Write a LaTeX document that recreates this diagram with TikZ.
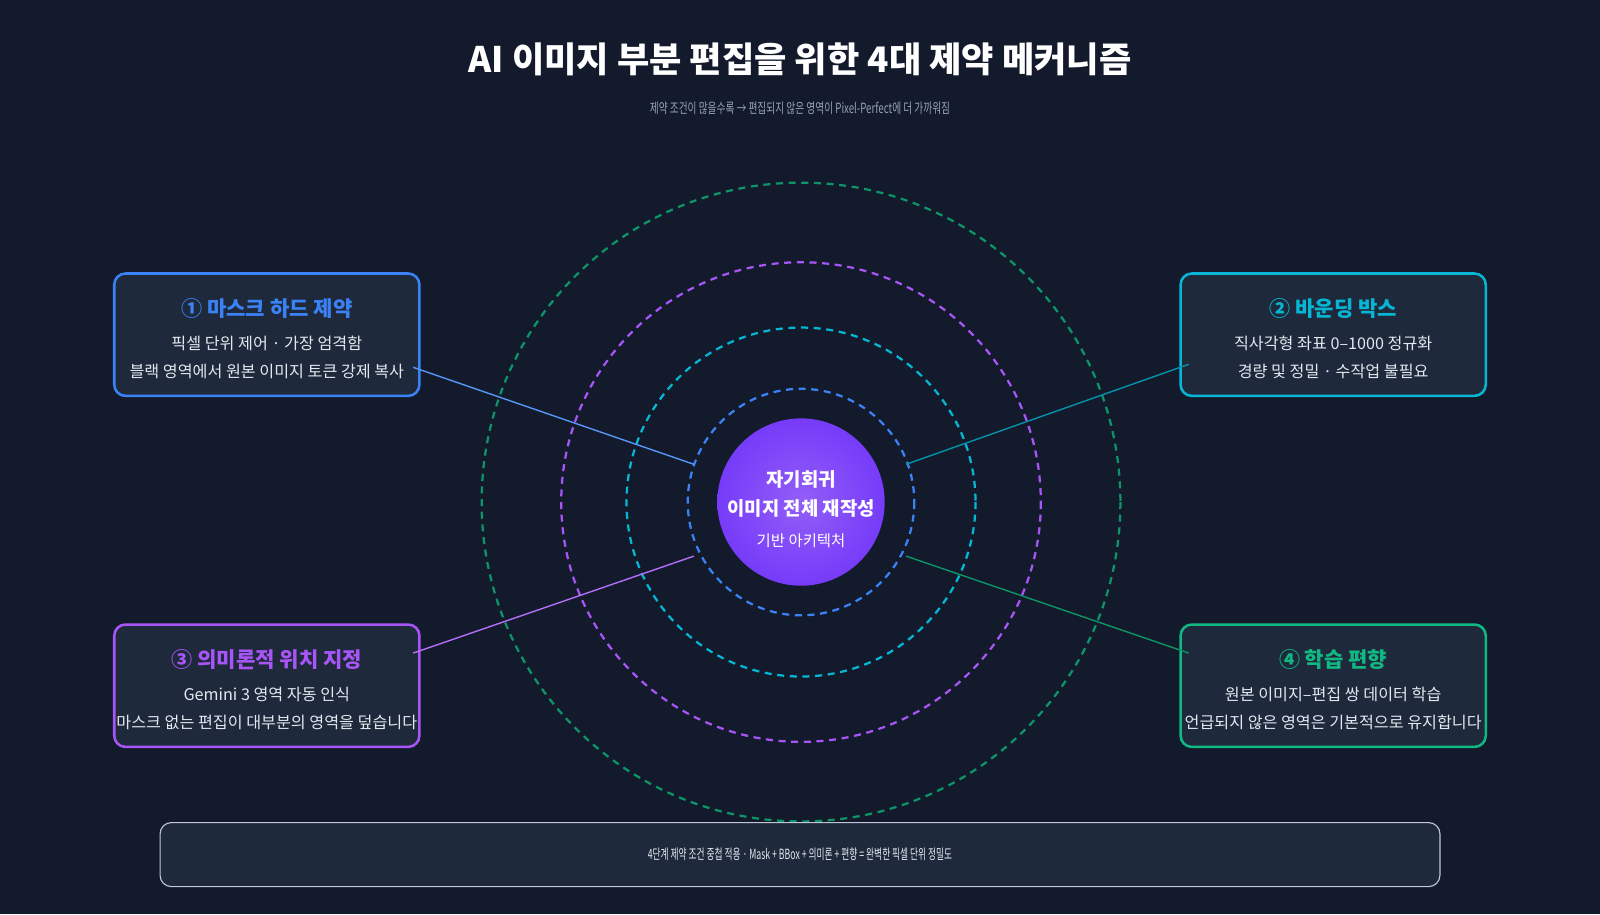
\documentclass[tikz,border=0pt]{standalone}
\usepackage{fontspec}
\setmainfont{Noto Sans CJK KR}
\usetikzlibrary{positioning}
\definecolor{bgc}{HTML}{121A2B}
\definecolor{boxc}{HTML}{1E293B}
\definecolor{cblue}{HTML}{3B82F6}
\definecolor{ccyan}{HTML}{06B6D4}
\definecolor{cpurple}{HTML}{A855F7}
\definecolor{cgreen}{HTML}{10B981}
\definecolor{txt}{HTML}{E2E8F0}
\definecolor{sub}{HTML}{94A3B8}
\tikzset{
  ring/.style={dashed, line width=1.6pt, dash pattern=on 5pt off 4pt},
  card/.style={draw=#1, line width=1.8pt, rounded corners=8pt, fill=boxc,
    minimum width=7.63cm, minimum height=3.06cm},
  head/.style={text=#1, font=\fontsize{15}{17}\selectfont\bfseries},
  body/.style={text=txt, font=\fontsize{11.5}{13}\selectfont},
  link/.style={draw=#1, line width=1pt}
}
\begin{document}
\begin{tikzpicture}[x=0.02551cm, y=-0.02551cm]
    \fill[bgc] (0,0) rectangle (1568,896);
    \useasboundingbox (0,0) rectangle (1568,896);
    \node[text=white, font=\fontsize{25}{28}\selectfont\bfseries] (title) at (784,58) {AI 이미지 부분 편집을 위한 4대 제약 메커니즘};
    \node[text=sub, font=\fontsize{10}{12}\selectfont] (subtitle) at (784,106) {\scalebox{0.69}[1]{제약 조건이 많을수록 → 편집되지 않은 영역이 Pixel-Perfect에 더 가까워짐}};
    % rings
    \coordinate (c) at (785,492);
    \draw[ring, cgreen!80!black] (c) circle (313);
    \draw[ring, cpurple] (c) circle (235);
    \draw[ring, ccyan] (c) circle (171);
    \draw[ring, cblue] (c) circle (111);
    \shade[inner color=cpurple!80!cblue, outer color=cpurple!70!blue] (c) circle (82);
    \node[text=white, align=center, font=\fontsize{13.4}{21}\selectfont\bfseries] (core) at (785,484) {자기회귀\\이미지 전체 재작성};
    \node[text=white!90, font=\fontsize{11}{13}\selectfont] (base) at (785,530) {기반 아키텍처};
    % cards
    \node[card=cblue] (mask) at (261.5,328) {};
    \node[head=cblue] at (261.5,302) {① 마스크 하드 제약};
    \node[body] at (261.5,337) {픽셀 단위 제어 · 가장 엄격함};
    \node[body] at (261.5,364) {블랙 영역에서 원본 이미지 토큰 강제 복사};
    \node[card=ccyan] (bbox) at (1306.5,328) {};
    \node[head=ccyan] at (1306.5,302) {② 바운딩 박스};
    \node[body] at (1306.5,337) {직사각형 좌표 0–1000 정규화};
    \node[body] at (1306.5,364) {경량 및 정밀 · 수작업 불필요};
    \node[card=cpurple] (sem) at (261.5,672) {};
    \node[head=cpurple] at (261.5,646) {③ 의미론적 위치 지정};
    \node[body] at (261.5,681) {Gemini 3 영역 자동 인식};
    \node[body] at (261.5,708) {마스크 없는 편집이 대부분의 영역을 덮습니다};
    \node[card=cgreen] (bias) at (1306.5,672) {};
    \node[head=cgreen] at (1306.5,646) {④ 학습 편향};
    \node[body] at (1306.5,681) {원본 이미지–편집 쌍 데이터 학습};
    \node[body] at (1306.5,708) {언급되지 않은 영역은 기본적으로 유지합니다};
    % links
    \coordinate (m1) at (405,360); \coordinate (m2) at (680,455);
    \coordinate (b1) at (1165,357); \coordinate (b2) at (888,455);
    \coordinate (s1) at (405,640); \coordinate (s2) at (680,545);
    \coordinate (g1) at (1165,640); \coordinate (g2) at (888,545);
    \draw[link=cblue!85] (m1) -- (m2);
    \draw[link=ccyan!80!black] (b1) -- (b2);
    \draw[link=cpurple!85] (s1) -- (s2);
    \draw[link=cgreen!80!black] (g1) -- (g2);
    % footer
    \node[draw=sub!60, fill=boxc, rounded corners=8pt, line width=0.8pt,
      minimum width=32cm, minimum height=1.6cm] (foot) at (784,837.5) {};
    \node[text=txt, font=\fontsize{10}{12}\selectfont] at (foot) {\scalebox{0.62}[1]{4단계 제약 조건 중첩 적용 · Mask + BBox + 의미론 + 편향 = 완벽한 픽셀 단위 정밀도}};
\end{tikzpicture}
\end{document}
